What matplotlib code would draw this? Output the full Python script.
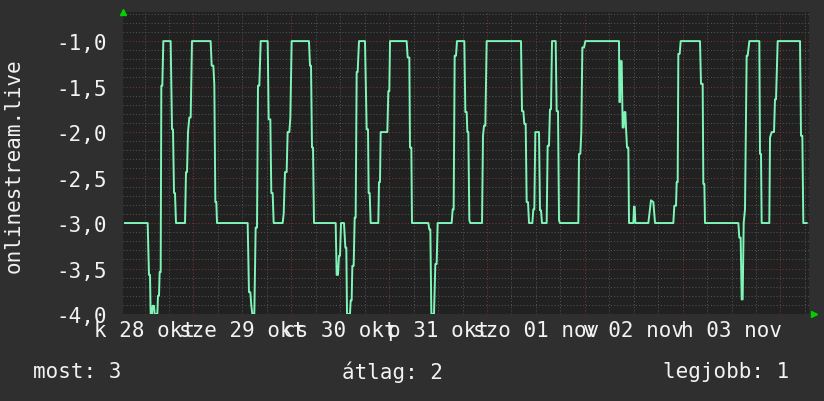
import matplotlib
matplotlib.use('Agg')
import matplotlib.pyplot as plt
import numpy as np

# hours since 2025-10-28 00:00
hours = [7.20, 12.76, 13.08, 13.33, 13.49, 13.82, 13.98, 14.31, 14.47, 15.13,
         15.29, 15.54, 15.70, 15.95, 16.11, 16.35, 16.60, 18.40, 18.73, 18.97,
         19.22, 19.46, 19.71, 21.92, 22.16, 22.41, 22.65, 22.98, 23.31, 23.63,
         28.21, 28.46, 28.87, 29.11, 29.36, 29.60, 29.77, 37.29, 37.61, 37.94,
         38.19, 38.43, 38.92, 39.25, 39.58, 39.82, 40.15, 40.48, 42.20, 42.44,
         42.85, 43.09, 43.42, 43.67, 45.87, 46.12, 46.45, 46.85, 47.10, 47.51,
         47.76, 48.08, 52.33, 52.58, 52.83, 53.07, 53.32, 53.56, 58.88, 59.12,
         59.45, 59.69, 59.94, 60.19, 60.92, 61.25, 61.49, 61.66, 62.39, 62.56,
         62.80, 62.97, 63.29, 63.54, 63.78, 64.03, 64.27, 64.60,
         66.07, 66.48, 66.81, 66.97, 67.22, 67.46, 69.34, 69.51, 69.75, 69.92,
         71.55, 71.80, 72.04, 72.21, 76.29, 76.54, 76.95, 77.11, 77.44, 77.60,
         81.61, 81.85, 82.10, 82.35, 83.00, 83.33, 83.65, 83.90, 87.33, 87.58,
         87.82, 88.07, 88.40, 88.64, 90.44, 90.69, 91.01, 91.18, 91.42, 91.67,
         91.91, 94.78, 95.02, 95.27, 95.59, 95.92, 104.34, 104.59, 104.92, 105.16,
         105.49, 105.73, 106.06, 106.31, 107.12, 107.37, 107.61, 107.86, 108.76, 109.00,
         109.25, 109.49, 110.64, 110.88, 111.21, 111.45, 111.70, 111.95, 112.85, 113.09,
         113.42, 113.67, 113.91, 118.41, 118.57, 118.90, 119.14, 119.39, 119.80, 120.13,
         128.38, 128.47, 128.63, 128.79, 129.04, 129.28, 129.53, 129.69, 129.94, 130.10,
         130.35, 130.67, 130.84, 131.90, 132.06, 132.23, 132.39, 135.58, 135.83, 136.23,
         136.81, 137.22, 141.71, 141.96, 142.37, 142.53, 142.78, 142.94, 143.27, 143.51,
         148.25, 148.50, 148.91, 149.07, 149.32, 149.48, 157.66, 157.90, 158.23, 158.48,
         158.72, 158.97, 159.29, 159.70, 159.95, 160.36, 162.81, 162.97, 163.22, 163.38,
         165.26, 165.43, 165.84, 166.41, 166.65, 166.90, 167.31, 172.79, 173.03, 173.36,
         173.60, 174.42]

values = [-3.0, -3.0, -3.57, -3.57, -4.0, -4.0, -3.91, -3.91, -4.0, -4.0,
          -3.80, -3.80, -3.54, -3.54, -1.49, -1.49, -1.0, -1.0, -1.97, -1.97,
          -2.67, -2.67, -3.0, -3.0, -2.44, -2.44, -2.0, -1.84, -1.84, -1.0,
          -1.0, -1.27, -1.27, -1.48, -2.77, -2.77, -3.0, -3.0, -3.76, -3.76,
          -3.91, -4.0, -4.0, -3.05, -3.05, -1.49, -1.49, -1.0, -1.0, -1.86,
          -1.86, -2.67, -2.67, -3.0, -3.0, -2.90, -2.44, -2.44, -2.0, -2.0,
          -1.84, -1.0, -1.0, -1.27, -1.27, -2.17, -2.17, -3.0, -3.0, -3.57,
          -3.57, -3.36, -3.36, -3.0, -3.0, -3.27, -3.27, -4.0, -4.0, -3.85,
          -3.85, -3.47, -3.47, -2.94, -2.94, -1.34, -1.34, -1.0,
          -1.0, -1.97, -1.97, -2.67, -2.67, -3.0, -3.0, -2.55, -2.55, -2.0,
          -2.0, -1.55, -1.55, -1.0, -1.0, -1.18, -1.18, -2.17, -2.17, -3.0,
          -3.0, -3.07, -3.07, -4.0, -4.0, -3.45, -3.45, -3.0, -3.0, -2.85,
          -2.85, -1.16, -1.16, -1.0, -1.0, -1.78, -1.78, -2.0, -2.0, -2.97,
          -3.0, -3.0, -2.04, -1.93, -1.93, -1.0, -1.0, -1.77, -1.77, -1.91,
          -1.91, -2.77, -2.77, -3.0, -3.0, -2.85, -2.85, -2.0, -2.0, -2.86,
          -2.86, -3.0, -3.0, -2.15, -2.15, -1.75, -1.75, -1.0, -1.0, -1.77,
          -1.77, -2.97, -3.0, -3.0, -2.24, -2.24, -2.0, -1.07, -1.07, -1.0,
          -1.0, -1.67, -1.67, -1.22, -1.22, -1.95, -1.95, -1.78, -1.78, -1.95,
          -2.17, -2.17, -3.0, -3.0, -2.82, -2.82, -3.0, -3.0, -2.90, -2.75,
          -2.77, -3.0, -3.0, -2.81, -2.81, -2.55, -2.55, -1.14, -1.14, -1.0,
          -1.0, -1.47, -1.47, -2.57, -2.57, -3.0, -3.0, -3.16, -3.16, -3.84,
          -3.84, -3.0, -2.85, -1.16, -1.16, -1.0, -1.0, -2.24, -2.24, -3.0,
          -3.0, -2.06, -2.0, -2.0, -1.64, -1.64, -1.0, -1.0, -2.04, -2.04,
          -3.0, -3.0]

day_labels = ['k 28 okt', 'sze 29 okt', 'cs 30 okt', 'p 31 okt',
              'szo 01 nov', 'v 02 nov', 'h 03 nov']
y_ticks = [-1.0, -1.5, -2.0, -2.5, -3.0, -3.5, -4.0]
series_name = 'onlinestream.live'
summary = ['most: 3', 'átlag: 2', 'legjobb: 1']

plt.rcParams['font.family'] = 'DejaVu Sans Mono'
txt = '#f2f2f2'
fs = 15

fig = plt.figure(figsize=(8.24, 4.02), dpi=100, facecolor='#2f2f2f')
ax = fig.add_axes([123.5/824, 87/402, 685/824, 302/402])
ax.set_facecolor('#212121')

ax.plot(hours, values, color='#7ff5b8', lw=1.4, zorder=3)

ax.set_xlim(6.83, 174.87)
ax.set_ylim(-4.0, -0.68)

# grid: gray every 6h / 0.1, red every day / 0.5
ax.set_xticks(np.arange(24, 175, 24))
ax.set_xticks([h for h in range(12, 175, 6) if h % 24], minor=True)
ax.set_yticks(y_ticks)
ax.set_yticks(np.arange(-4.0, -0.65, 0.1), minor=True)
ax.grid(which='major', color='#7a3434', ls=(0, (1, 2)), lw=0.75)
ax.grid(which='minor', color='#525252', ls=(0, (1, 2)), lw=0.75)
ax.set_axisbelow(True)

ax.set_xticklabels([])
ax.set_yticklabels([('%.1f' % v).replace('.', ',') for v in y_ticks])
ax.tick_params(which='both', length=0)
ax.tick_params(axis='y', colors=txt, labelsize=fs, pad=12)

for i, lab in enumerate(day_labels):
    ax.text(12 + 24 * i, -0.02, lab, transform=ax.get_xaxis_transform(),
            ha='center', va='top', color=txt, fontsize=fs)

for s in ax.spines.values():
    s.set_visible(False)

# rrdtool style axis arrows
ax.plot([0], [1.0], marker='^', color='#00d000', ms=5, transform=ax.transAxes,
        clip_on=False)
ax.plot([1.008], [0.0], marker='>', color='#00d000', ms=5, transform=ax.transAxes,
        clip_on=False)

fig.text(14/824, (402-166)/402, series_name, rotation=90,
         ha='center', va='center', color=txt, fontsize=fs)

fig.text(33/824, 30/402, summary[0], ha='left', va='center', color=txt, fontsize=fs)
fig.text(342/824, 30/402, summary[1], ha='left', va='center', color=txt, fontsize=fs)
fig.text(663/824, 30/402, summary[2], ha='left', va='center', color=txt, fontsize=fs)

fig.savefig('out.png', dpi=100, facecolor=fig.get_facecolor())
